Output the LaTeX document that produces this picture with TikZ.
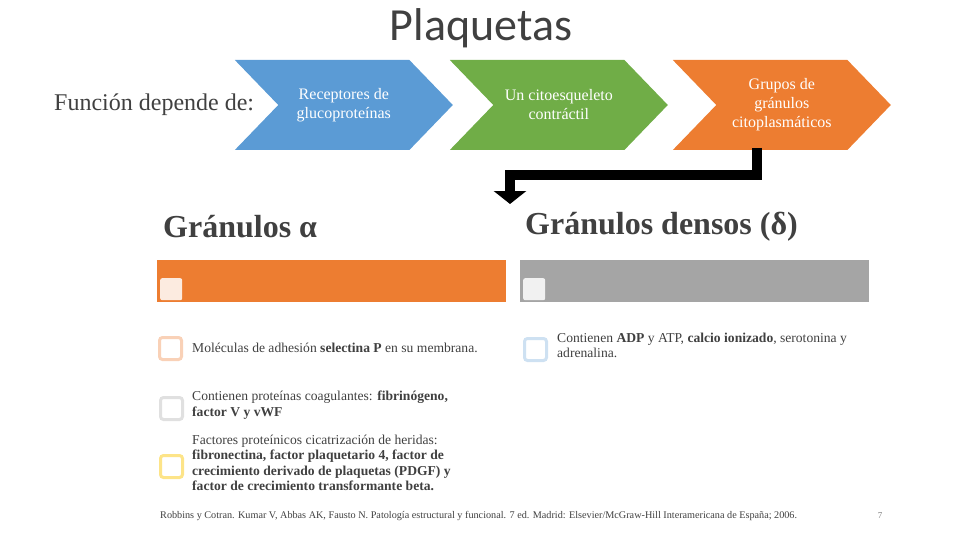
\documentclass[tikz,border=0pt]{standalone}
\usepackage{fontspec}
\setmainfont{Liberation Serif}
\newfontfamily\titlefont{Carlito}
\usetikzlibrary{shapes.symbols,arrows.meta}
\definecolor{cblue}{HTML}{5B9BD5}
\definecolor{cgreen}{HTML}{70AD47}
\definecolor{corange}{HTML}{ED7D31}
\definecolor{cgray}{HTML}{A5A5A5}
\definecolor{ctext}{HTML}{404040}
\tikzset{
  chev/.style={signal, signal to=east, signal from=west, signal pointer angle=92,
    minimum width=218pt, minimum height=90pt, inner sep=0pt, draw=none,
    text=white, align=center, font=\fontsize{16}{19}\selectfont},
  bar/.style={anchor=north west, minimum width=349pt, minimum height=42pt, inner sep=0pt, draw=none},
  tick/.style={anchor=north west, minimum size=22pt, inner sep=0pt, fill=white, fill opacity=0.85, rounded corners=2pt},
  check/.style={anchor=north west, minimum size=22pt, inner sep=0pt, fill=white, line width=3pt, rounded corners=3pt},
  item/.style={anchor=north west, align=left, inner sep=0pt, text=ctext, font=\fontsize{13.6}{15.3}\selectfont},
  head/.style={anchor=west, inner sep=0pt, text=ctext, font=\fontsize{32}{34}\selectfont\bfseries},
}
\begin{document}
\begin{tikzpicture}[x=1pt,y=-1pt]
\useasboundingbox (0,0) rectangle (960,540);
\node[text=ctext, font=\titlefont\fontsize{46}{48}\selectfont] (title) at (481,28) {Plaquetas};
\node[text=ctext, anchor=west, inner sep=0pt, font=\fontsize{24}{26}\selectfont] (fdep) at (54,105) {Función depende de:};
\node[chev, fill=cblue, anchor=west] (c1) at (278,105) {Receptores de\\glucoproteínas};
\node[chev, fill=cgreen, anchor=west] (c2) at (493,105) {Un citoesqueleto\\contráctil};
\node[chev, fill=corange, anchor=west] (c3) at (716,105) {Grupos de\\gránulos\\citoplasmáticos};
\coordinate (a0) at (757,148);
\coordinate (a1) at (510,204);
\draw[line width=10pt, -{Triangle[length=13pt,width=32pt]}] (a0) |- (a1 |- 0,175) -- (a1);
\node[head] (ha) at (163,227) {Gránulos α};
\node[head] (hd) at (525,227) {Gránulos densos (δ)};
\node[bar, fill=corange] (ba) at (157,260) {};
\node[tick] (ta) at (160,278) {};
\node[bar, fill=cgray] (bd) at (520,260) {};
\node[tick] (td) at (523,278) {};
\node[check, draw=corange!35] (q1) at (158,336) {};
\node[item, anchor=west] (t1) at (192,348) {Moléculas de adhesión \textbf{selectina P} en su membrana.};
\node[check, draw=black!12] (q2) at (159,396) {};
\node[item] (t2) at (192,391) {Contienen proteínas coagulantes: \textbf{fibrinógeno,}\\\textbf{factor V y vWF}};
\node[check, draw=yellow!60!orange!45] (q3) at (159,454) {};
\node[item] (t3) at (192,435) {Factores proteínicos cicatrización de heridas:\\\textbf{fibronectina, factor plaquetario 4, factor de}\\\textbf{crecimiento derivado de plaquetas (PDGF) y}\\\textbf{factor de crecimiento transformante beta.}};
\node[check, draw=cblue!30] (q4) at (523,337) {};
\node[item] (t4) at (557,333) {Contienen \textbf{ADP} y ATP, \textbf{calcio ionizado}, serotonina y\\adrenalina.};
\node[anchor=west, inner sep=0pt, text=ctext, font=\fontsize{10.2}{12}\selectfont] (foot) at (160,516) {Robbins y Cotran. Kumar V, Abbas AK, Fausto N. Patología estructural y funcional. 7 ed. Madrid: Elsevier/McGraw-Hill Interamericana de España; 2006.};
\node[inner sep=0pt, text=black!50, font=\fontsize{9}{10}\selectfont] (pg) at (880,516) {7};
\end{tikzpicture}
\end{document}
